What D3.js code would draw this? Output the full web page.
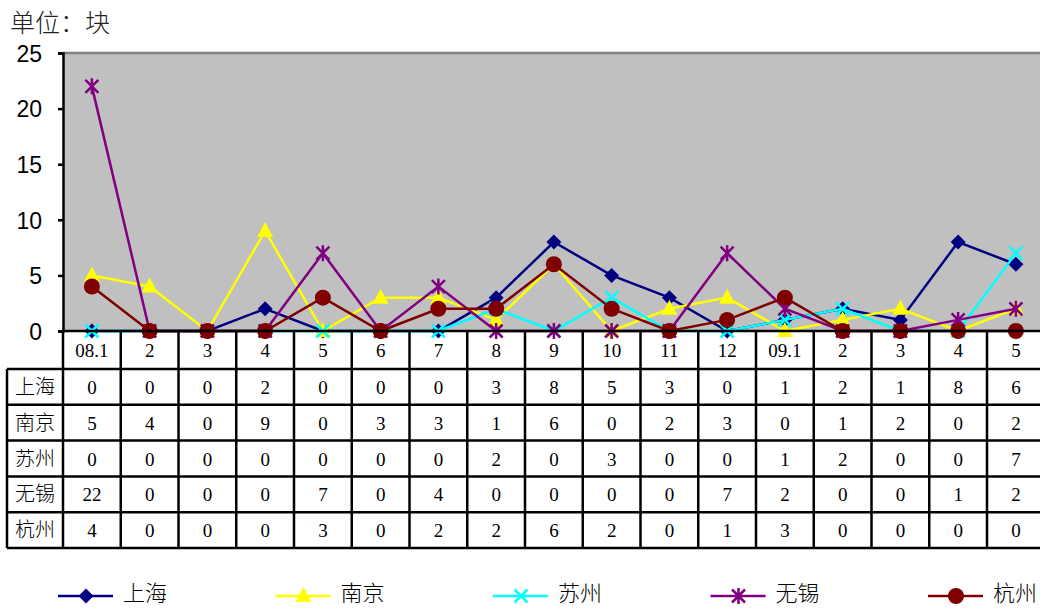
<!DOCTYPE html>
<html>
<head>
<meta charset="utf-8">
<script src="https://cdn.jsdelivr.net/npm/d3@7"></script>
<style>
  html, body { margin: 0; padding: 0; background: #fff; overflow: hidden; }
  svg { display: block; }
</style>
</head>
<body>
<svg id="chart" width="1040" height="609"></svg>
<script>
// Monthly counts per city (unit: 块)
const months = ["08.1", "2", "3", "4", "5", "6", "7", "8", "9", "10", "11", "12", "09.1", "2", "3", "4", "5"];
const cities = ["上海", "南京", "苏州", "无锡", "杭州"];
const shanghai = [0, 0, 0, 2, 0, 0, 0, 3, 8, 5, 3, 0, 1, 2, 1, 8, 6];
const nanjing  = [5, 4, 0, 9, 0, 3, 3, 1, 6, 0, 2, 3, 0, 1, 2, 0, 2];
const suzhou   = [0, 0, 0, 0, 0, 0, 0, 2, 0, 3, 0, 0, 1, 2, 0, 0, 7];
const wuxi     = [22, 0, 0, 0, 7, 0, 4, 0, 0, 0, 0, 7, 2, 0, 0, 1, 2];
const hangzhou = [4, 0, 0, 0, 3, 0, 2, 2, 6, 2, 0, 1, 3, 0, 0, 0, 0];
const yTicks = [0, 5, 10, 15, 20, 25];
const colors = ["#000080", "#FFFF00", "#00FFFF", "#800080", "#800000"];
const markers = ["diamond", "triangle", "cross", "asterisk", "circle"];

const seriesValues = [shanghai, nanjing, suzhou, wuxi, hangzhou];

const svg = d3.select("#chart");
const plotLeft = 63, plotTop = 53, plotBottom = 331;
const colW = 57.75;
const plotRight = plotLeft + months.length * colW;

const x = d3.scaleBand().domain(d3.range(months.length)).range([plotLeft, plotRight]).padding(0);
const y = d3.scaleLinear().domain([0, 25]).range([plotBottom, plotTop]);
const cx = i => x(i) + x.bandwidth() / 2;

// unit label
svg.append("text").attr("x", 10).attr("y", 32)
  .attr("font-family", "Noto Sans CJK SC").attr("font-size", 25).attr("font-weight", 300)
  .attr("fill", "#222").text("单位：块");

// plot background
svg.append("rect").attr("x", plotLeft).attr("y", plotTop).attr("width", plotRight - plotLeft).attr("height", plotBottom - plotTop)
  .attr("fill", "#C0C0C0");
svg.append("line").attr("x1", plotLeft).attr("x2", plotRight).attr("y1", plotTop).attr("y2", plotTop)
  .attr("stroke", "#808080").attr("stroke-width", 2.5);

// y axis
const yAxis = d3.axisLeft(y).tickValues(yTicks).tickSize(5).tickPadding(16);
const gy = svg.append("g").attr("transform", `translate(${plotLeft},0)`).call(yAxis);
gy.select(".domain").attr("stroke", "#000").attr("stroke-width", 2.5);
gy.selectAll(".tick line").attr("stroke", "#000").attr("stroke-width", 2.5);
gy.selectAll(".tick text").attr("font-family", "Liberation Sans, Arial").attr("font-size", 23)
  .attr("fill", "#000").attr("dy", "0.36em");

// series lines and markers
const line = d3.line().x((d, i) => cx(i)).y(d => y(d));

function drawMarker(g, type, color, px, py) {
  if (type === "diamond") {
    g.append("path").attr("d", `M${px},${py - 7.5}L${px + 7.5},${py}L${px},${py + 7.5}L${px - 7.5},${py}Z`).attr("fill", color);
  } else if (type === "triangle") {
    g.append("path").attr("d", `M${px},${py - 9}L${px + 8},${py + 6}L${px - 8},${py + 6}Z`).attr("fill", color);
  } else if (type === "cross") {
    const s = 6.5;
    g.append("path").attr("d", `M${px - s},${py - s}L${px + s},${py + s}M${px + s},${py - s}L${px - s},${py + s}`)
      .attr("stroke", color).attr("stroke-width", 2.5);
  } else if (type === "asterisk") {
    const s = 6.5;
    g.append("path").attr("d", `M${px - s},${py - s}L${px + s},${py + s}M${px + s},${py - s}L${px - s},${py + s}M${px},${py - 8}L${px},${py + 8}`)
      .attr("stroke", color).attr("stroke-width", 2.5);
  } else if (type === "circle") {
    g.append("circle").attr("cx", px).attr("cy", py).attr("r", 8).attr("fill", color);
  }
}

seriesValues.forEach((vals, k) => {
  const g = svg.append("g");
  g.append("path").datum(vals).attr("d", line).attr("fill", "none")
    .attr("stroke", colors[k]).attr("stroke-width", 2.5);
  vals.forEach((v, i) => drawMarker(g, markers[k], colors[k], cx(i), y(v)));
});

// x axis baseline
svg.append("line").attr("x1", plotLeft).attr("x2", plotRight).attr("y1", plotBottom).attr("y2", plotBottom)
  .attr("stroke", "#000").attr("stroke-width", 2.5);

// data table
const rowTop = 369, rowH = 35.8;
const tableBottom = rowTop + cities.length * rowH;
const labelLeft = 7;
const tbl = svg.append("g").attr("stroke", "#000").attr("stroke-width", 2.5);
// vertical lines between month columns
d3.range(months.length + 1).forEach(i => {
  const xx = plotLeft + i * colW;
  tbl.append("line").attr("x1", xx).attr("x2", xx).attr("y1", plotBottom).attr("y2", tableBottom);
});
tbl.append("line").attr("x1", labelLeft).attr("x2", labelLeft).attr("y1", rowTop).attr("y2", tableBottom);
d3.range(cities.length + 1).forEach(r => {
  const yy = rowTop + r * rowH;
  tbl.append("line").attr("x1", labelLeft).attr("x2", plotRight).attr("y1", yy).attr("y2", yy);
});

// header labels
svg.append("g").selectAll("text").data(months).join("text")
  .attr("x", (d, i) => cx(i)).attr("y", 357)
  .attr("text-anchor", "middle").attr("font-family", "Liberation Serif, Times New Roman")
  .attr("font-size", 19).attr("fill", "#000").text(d => d);

// row labels and values
cities.forEach((c, r) => {
  const yy = rowTop + r * rowH + rowH / 2 + 7;
  svg.append("text").attr("x", 35).attr("y", yy).attr("text-anchor", "middle")
    .attr("font-family", "Noto Sans CJK SC").attr("font-weight", 300).attr("font-size", 20)
    .attr("fill", "#000").text(c);
  svg.append("g").selectAll("text").data(seriesValues[r]).join("text")
    .attr("x", (d, i) => cx(i)).attr("y", yy)
    .attr("text-anchor", "middle").attr("font-family", "Liberation Serif, Times New Roman")
    .attr("font-size", 19).attr("fill", "#000").text(d => d);
});

// legend
const legStart = 58, legStep = 217.5, legY = 596;
cities.forEach((c, k) => {
  const lx = legStart + k * legStep;
  const g = svg.append("g");
  g.append("line").attr("x1", lx).attr("x2", lx + 55).attr("y1", legY).attr("y2", legY)
    .attr("stroke", colors[k]).attr("stroke-width", 2.5);
  drawMarker(g, markers[k], colors[k], lx + 28, legY);
  g.append("text").attr("x", lx + 65).attr("y", 601)
    .attr("font-family", "Noto Sans CJK SC").attr("font-weight", 300).attr("font-size", 22)
    .attr("fill", "#000").text(c);
});
</script>
</body>
</html>
